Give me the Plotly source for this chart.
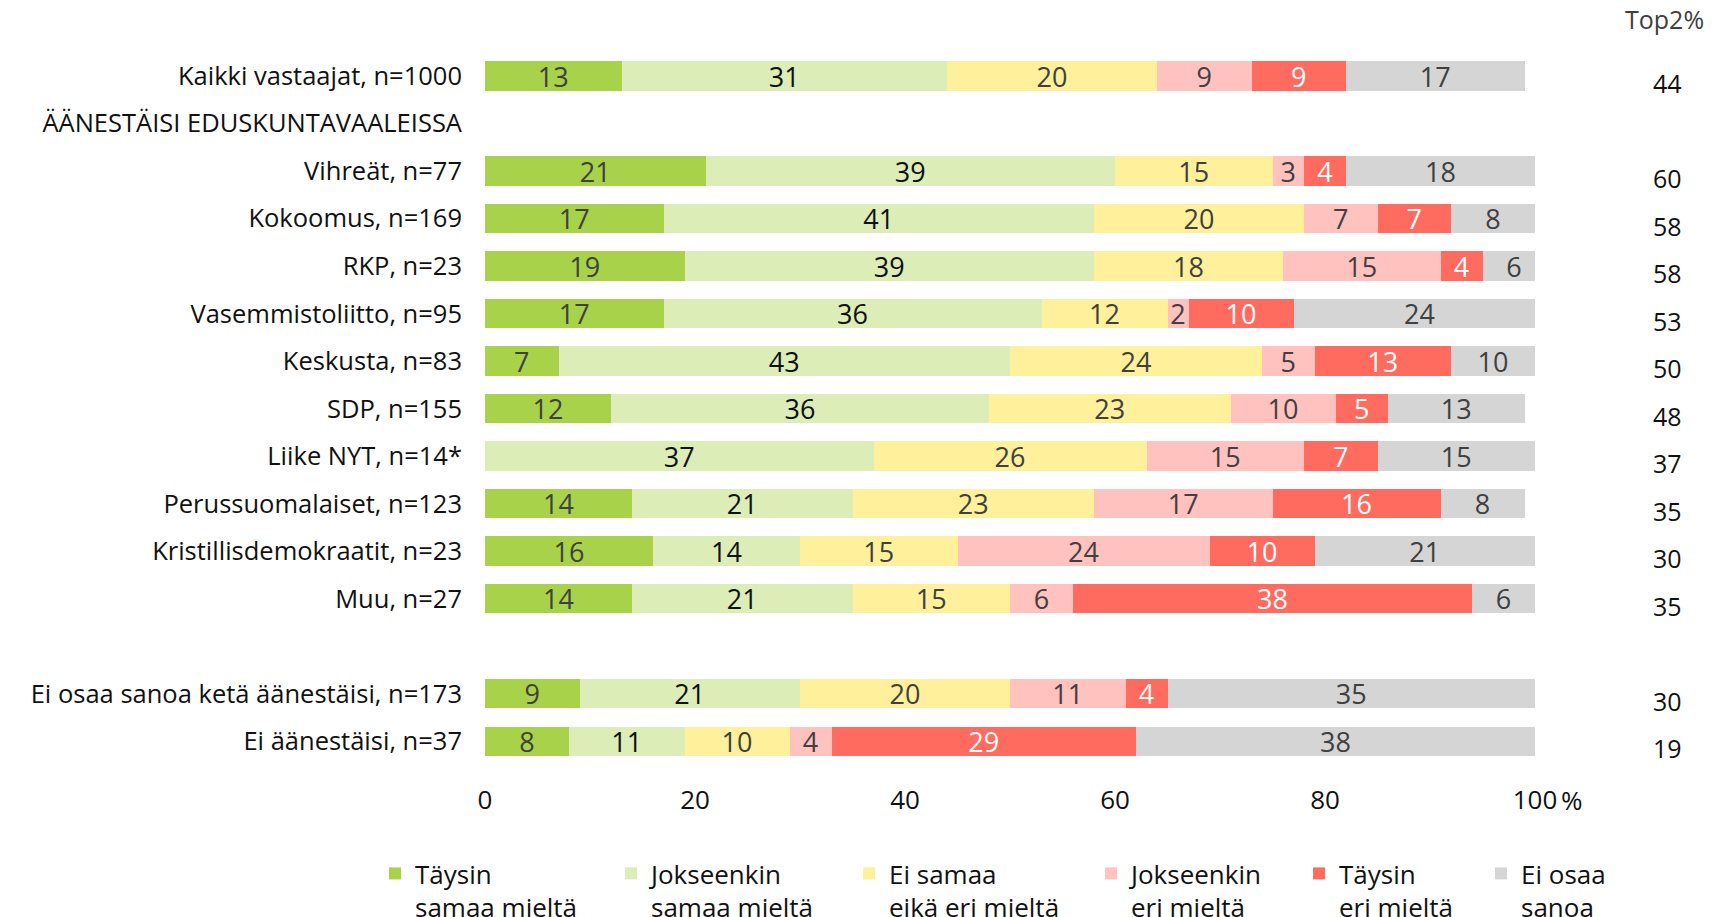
import plotly.graph_objects as go

categories = [
    "Kaikki vastaajat, n=1000",
    "ÄÄNESTÄISI EDUSKUNTAVAALEISSA",
    "Vihreät, n=77",
    "Kokoomus, n=169",
    "RKP, n=23",
    "Vasemmistoliitto, n=95",
    "Keskusta, n=83",
    "SDP, n=155",
    "Liike NYT, n=14*",
    "Perussuomalaiset, n=123",
    "Kristillisdemokraatit, n=23",
    "Muu, n=27",
    " ",
    "Ei osaa sanoa ketä äänestäisi, n=173",
    "Ei äänestäisi, n=37",
]

taysin_samaa = [13, None, 21, 17, 19, 17, 7, 12, None, 14, 16, 14, None, 9, 8]
jokseenkin_samaa = [31, None, 39, 41, 39, 36, 43, 36, 37, 21, 14, 21, None, 21, 11]
ei_samaa_eika_eri = [20, None, 15, 20, 18, 12, 24, 23, 26, 23, 15, 15, None, 20, 10]
jokseenkin_eri = [9, None, 3, 7, 15, 2, 5, 10, 15, 17, 24, 6, None, 11, 4]
taysin_eri = [9, None, 4, 7, 4, 10, 13, 5, 7, 16, 10, 38, None, 4, 29]
ei_osaa_sanoa = [17, None, 18, 8, 6, 24, 8, 13, 15, 8, 21, 6, None, 35, 38]
ei_osaa_sanoa_labels = [17, None, 18, 8, 6, 24, 10, 13, 15, 8, 21, 6, None, 35, 38]
top2 = [44, None, 60, 58, 58, 53, 50, 48, 37, 35, 30, 35, None, 30, 19]

series_names = [
    "Täysin<br>samaa mieltä",
    "Jokseenkin<br>samaa mieltä",
    "Ei samaa<br>eikä eri mieltä",
    "Jokseenkin<br>eri mieltä",
    "Täysin<br>eri mieltä",
    "Ei osaa<br>sanoa",
]
series_values = [taysin_samaa, jokseenkin_samaa, ei_samaa_eika_eri, jokseenkin_eri, taysin_eri, ei_osaa_sanoa]
series_labels = [taysin_samaa, jokseenkin_samaa, ei_samaa_eika_eri, jokseenkin_eri, taysin_eri, ei_osaa_sanoa_labels]
colors = ["#A9D24B", "#DDEDB8", "#FFF09B", "#FFC2BE", "#FF6B5F", "#D5D5D5"]
text_colors = ["#404040", "#111111", "#404040", "#404040", "#FFFFFF", "#404040"]
tick_vals = [0, 20, 40, 60, 80, 100]
tick_text = ["0", "20", "40", "60", "80", "100"]

FONT = "Open Sans"
FS = 26
PLOT_L, PLOT_R = 485, 1535
PLOT_T, PLOT_B = 50, 765
FIG_W, FIG_H = 1714, 917

legend_text_px = [417, 653, 891, 1133, 1341, 1523]

fig = go.Figure()
for i, (name, vals, labs, col, tcol) in enumerate(zip(series_names, series_values, series_labels, colors, text_colors)):
    fig.add_trace(go.Bar(
        y=categories, x=vals, orientation="h", name=name,
        marker=dict(color=col, line=dict(width=0)),
        text=["" if v is None else str(v) for v in labs],
        textposition="inside", insidetextanchor="middle", textangle=0,
        textfont=dict(family=FONT, size=27, color=tcol),
        legend="legend" if i == 0 else f"legend{i+1}",
        hoverinfo="skip",
    ))

W = PLOT_R - PLOT_L
H = PLOT_B - PLOT_T
legends = {}
for i, px in enumerate(legend_text_px):
    key = "legend" if i == 0 else f"legend{i+1}"
    legends[key] = dict(
        xref="container", yref="container",
        x=(px - 42) / FIG_W, y=1 - 850 / FIG_H,
        xanchor="left", yanchor="top", orientation="v", valign="top",
        font=dict(family=FONT, size=FS, color="#111111"),
        bgcolor="rgba(0,0,0,0)", borderwidth=0,
        itemclick=False, itemdoubleclick=False,
    )

annotations = []
for cat, v in zip(categories, top2):
    if v is None:
        continue
    annotations.append(dict(
        x=(1667 - PLOT_L) / W, xref="paper", y=cat, yref="y", yshift=-7,
        text=str(v), showarrow=False, xanchor="center",
        font=dict(family=FONT, size=25, color="#111111"),
    ))
annotations.append(dict(
    x=(1664 - PLOT_L) / W, xref="paper", y=(PLOT_B - 19) / H, yref="paper",
    text="Top2%", showarrow=False, xanchor="center", yanchor="middle",
    font=dict(family=FONT, size=25, color="#404040"),
))
annotations.append(dict(
    x=100, xref="x", y=(PLOT_B - 800) / H, yref="paper", xshift=24,
    text="%", showarrow=False, xanchor="left", yanchor="middle",
    font=dict(family=FONT, size=FS, color="#111111"),
))

fig.update_layout(
    width=FIG_W, height=FIG_H,
    margin=dict(l=PLOT_L, r=FIG_W - PLOT_R, t=PLOT_T, b=FIG_H - PLOT_B, pad=0, autoexpand=False),
    barmode="stack", bargap=0.38,
    plot_bgcolor="white", paper_bgcolor="white",
    font=dict(family=FONT, size=FS, color="#111111"),
    showlegend=True,
    uniformtext=dict(minsize=27, mode="show"),
    annotations=annotations,
    **legends,
)
fig.update_xaxes(range=[0, 100], tickvals=tick_vals, ticktext=tick_text,
                 showgrid=False, zeroline=False, showline=False,
                 ticks="", ticklabelstandoff=17, automargin=False,
                 tickfont=dict(family=FONT, size=FS, color="#111111"))
fig.update_yaxes(categoryorder="array", categoryarray=categories, autorange="reversed",
                 showgrid=False, zeroline=False, showline=False, ticks="",
                 ticklabelstandoff=22, automargin=False,
                 tickfont=dict(family=FONT, size=25.5, color="#111111"))

fig.write_html("out.html", config={"displayModeBar": False},
               post_script="document.body.style.margin='0';")
